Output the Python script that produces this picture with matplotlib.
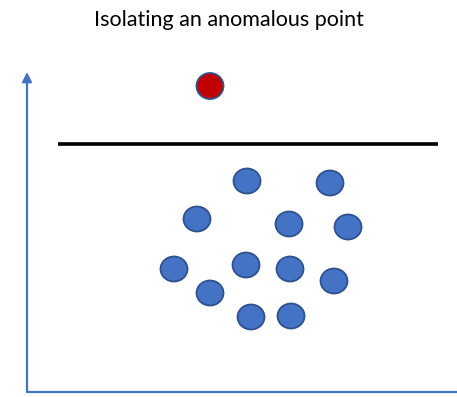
import matplotlib
matplotlib.use('Agg')
import matplotlib.pyplot as plt
from matplotlib.patches import Ellipse

# normal points (x, y) in plot units, origin at the axes corner
normal_x = [220, 303, 170, 262, 321, 147, 219, 263, 307, 183, 224, 264]
normal_y = [211, 209, 173, 168, 165, 123, 127, 123, 111, 99, 75, 76]

# the anomalous point above the split
anomaly_x = [183]
anomaly_y = [306]

# separating split line
split_y = 248
split_x = [31, 411]

fig = plt.figure(figsize=(4.57, 3.97), dpi=100)
ax = fig.add_axes([0, 0, 1, 1])
ax.set_xlim(-27, 430)
ax.set_ylim(-5, 392)
ax.axis('off')

blue = '#4472C4'
edge = '#2F528F'

# axes drawn as arrows
ax.annotate('', xy=(0, 320), xytext=(0, 0),
            arrowprops=dict(arrowstyle='-|>', color=blue, lw=1.6, mutation_scale=14,
                            shrinkA=0, shrinkB=0))
ax.plot([0, 432], [0, 0], color=blue, lw=1.6, solid_capstyle='butt')

ax.plot(split_x, [split_y, split_y], color='black', lw=2.6, solid_capstyle='butt')

for x, y in zip(normal_x, normal_y):
    ax.add_patch(Ellipse((x, y), 27, 25, facecolor=blue, edgecolor=edge, lw=1.3))
for x, y in zip(anomaly_x, anomaly_y):
    ax.add_patch(Ellipse((x, y), 27, 26, facecolor='#C00000', edgecolor=edge, lw=1.3))

fig.text(0.5, 1 - 20 / 397, 'Isolating an anomalous point', ha='center', va='center',
         fontsize=15.5, family='Lato', color='black')

fig.savefig('out.png', dpi=100)
